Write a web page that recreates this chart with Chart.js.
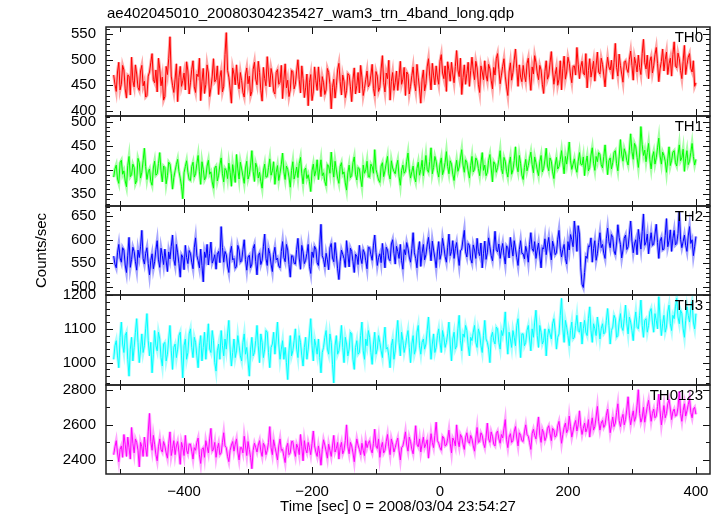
<!DOCTYPE html>
<html>
<head>
<meta charset="utf-8">
<script src="https://cdn.jsdelivr.net/npm/chart.js@4.4.1/dist/chart.umd.min.js"></script>
<style>
  html, body { margin: 0; padding: 0; background: #fff; }
  #wrap { position: relative; width: 723px; height: 516px; }
  #wrap canvas { position: absolute; left: 0; top: 0; }
</style>
</head>
<body>
<div id="wrap"></div>
<script>
const plotTitle = 'ae402045010_20080304235427_wam3_trn_4band_long.qdp';
const xTitle = 'Time [sec] 0 = 2008/03/04 23:54:27';
const yTitle = 'Counts/sec';
const bandNames = ['TH0', 'TH1', 'TH2', 'TH3', 'TH0123'];

// light curve bins: first bin time and bin width (sec)
const tStart = -510;
const binSize = 2;

const th0 = [
  470,452,438,476,495,441,452,489,480,443,425,470,468,431,505,459,447,490,472,446,
  440,478,489,449,458,427,430,468,476,494,512,461,455,480,437,503,482,449,466,421,
  428,487,471,502,545,468,450,436,462,492,418,465,487,448,459,474,441,496,478,433,
  455,481,498,447,436,472,467,503,420,458,483,434,452,490,474,428,445,468,502,457,
  461,488,432,466,479,437,448,510,553,479,466,443,415,484,472,451,490,457,443,475,
  459,436,427,470,484,453,468,429,438,481,495,462,451,497,475,440,419,485,463,449,
  506,472,447,483,470,438,433,475,481,452,456,489,424,461,492,445,460,428,441,479,
  477,443,452,478,500,461,435,488,463,426,445,472,410,456,471,420,437,486,459,440,
  486,455,428,467,455,432,441,483,475,452,404,446,462,425,449,480,493,457,431,470,
  458,426,440,473,470,447,418,461,484,433,450,475,435,489,466,430,444,462,478,447,
  452,470,491,444,429,477,468,438,446,482,508,455,437,474,463,499,421,458,475,440,
  455,478,440,465,497,452,462,485,430,476,471,433,448,469,486,454,439,491,466,443,
  415,462,480,439,453,486,502,468,441,493,470,451,488,466,452,497,510,474,463,488,
  438,496,479,458,495,472,455,487,518,480,467,503,432,465,490,452,473,495,448,479,
  505,478,461,497,484,452,436,488,476,461,498,470,458,491,482,460,443,485,470,502,
  512,481,453,470,487,502,468,447,430,476,494,460,475,499,521,483,448,490,466,457,
  489,470,457,492,503,466,440,486,472,508,495,474,461,489,480,452,434,477,498,462,
  470,494,516,478,452,471,485,450,462,498,441,483,507,462,476,505,493,470,455,487,
  488,470,524,491,463,486,497,474,470,512,445,479,502,466,481,497,458,488,515,476,
  472,503,491,470,447,482,505,486,480,499,462,494,532,485,468,511,489,472,456,495,
  498,482,475,501,517,489,460,505,493,476,509,485,471,512,540,494,482,509,463,497,
  506,474,488,510,524,493,457,482,497,521,478,500,515,471,492,503,468,510,535,488,
  484,513,502,479,463,497,528,471,490,505,512,483,476,498,448,455
];
const th1 = [
  385,402,410,381,372,415,420,391,398,377,365,409,428,386,390,412,405,371,378,424,
  415,383,395,419,445,407,380,396,402,376,368,404,418,389,392,413,436,398,375,408,
  405,371,388,416,412,392,360,384,398,411,422,397,383,366,340,394,407,419,395,380,
  378,407,416,385,392,413,430,396,370,417,401,379,385,408,420,391,396,375,362,404,
  408,377,389,410,425,392,375,403,399,382,414,395,366,411,393,374,432,402,381,416,
  402,387,372,404,418,381,390,410,440,397,376,414,405,383,395,376,362,398,412,385,
  386,405,423,389,398,417,370,395,409,378,393,412,435,396,380,408,401,385,364,399,
  417,381,392,406,384,413,426,392,371,399,404,382,390,376,355,398,412,387,398,421,
  380,402,421,388,394,376,367,411,408,393,437,405,385,418,400,383,372,407,415,391,
  396,373,358,394,410,384,388,415,427,391,379,405,402,381,365,410,393,400,418,386,
  385,412,407,393,442,401,390,379,374,408,415,386,398,414,428,392,381,419,404,397,
  392,408,420,387,368,399,410,393,397,418,435,402,383,396,408,385,375,403,416,389,
  401,420,388,407,430,401,395,417,446,392,405,428,418,398,385,412,425,390,400,416,
  438,407,392,419,412,391,378,402,420,397,406,425,442,410,395,421,415,398,383,409,
  428,396,401,425,419,403,388,414,436,399,410,388,395,420,432,404,375,417,412,395,
  405,421,440,403,392,426,418,397,385,412,427,391,400,419,448,408,396,430,413,389,
  380,405,422,398,409,424,437,411,394,427,415,400,388,417,430,396,403,421,445,408,
  398,425,418,396,382,410,426,402,407,421,440,415,392,428,412,433,458,419,401,412,
  423,404,395,418,436,412,410,427,388,415,429,398,405,431,446,414,399,428,417,436,
  432,411,404,428,452,420,390,419,425,402,415,436,440,413,398,427,463,431,418,444,
  435,419,410,441,475,438,422,455,448,426,405,433,490,452,430,441,417,436,455,421,
  402,427,438,412,425,446,466,429,412,437,430,418,395,423,448,409,420,437,440,415,
  408,431,452,419,425,443,397,424,440,411,418,436,455,428,410,422
];
const th2 = [
  565,548,540,572,590,561,552,583,578,546,530,567,605,541,558,584,575,553,535,578,
  562,585,620,560,548,571,583,549,525,556,570,538,553,579,598,557,541,582,566,547,
  580,555,532,574,559,586,610,558,545,590,572,549,520,568,563,536,588,562,549,577,
  571,552,538,583,604,566,555,540,580,545,510,574,562,590,546,571,595,550,557,568,
  537,569,575,551,628,583,552,575,568,544,530,571,586,557,560,539,543,588,578,552,
  555,579,600,558,535,563,567,540,548,581,590,553,525,566,572,547,556,585,612,560,
  545,582,570,548,532,569,584,557,561,544,540,575,596,562,553,590,578,547,520,566,
  565,550,548,579,603,561,537,588,574,549,556,571,590,543,528,574,562,586,580,551,
  545,589,633,566,558,542,571,557,536,583,592,561,553,594,567,538,515,553,578,569,
  560,541,598,571,542,582,575,553,530,569,565,547,588,561,549,579,572,555,538,584,
  583,568,556,587,610,573,545,562,570,551,592,566,540,584,578,559,555,591,600,571,
  548,586,575,560,590,555,537,579,568,594,582,563,552,581,615,572,560,540,577,596,
  543,571,590,557,568,589,605,579,555,597,578,561,540,574,596,558,570,603,585,564,
  552,584,612,566,575,598,560,581,594,567,545,576,580,601,620,574,563,592,588,559,
  550,589,578,560,603,575,566,593,540,571,597,558,572,604,585,566,555,582,618,579,
  574,591,560,578,592,566,548,587,583,561,605,584,565,598,580,562,545,579,598,571,
  570,559,586,573,552,590,615,581,575,596,560,578,593,565,540,583,580,602,568,589,
  605,576,557,597,585,568,572,601,620,582,563,579,590,560,548,596,578,611,600,585,
  640,612,575,630,612,540,505,498,530,565,560,587,585,604,552,581,598,556,570,594,
  615,583,590,571,560,602,625,596,583,611,605,576,568,593,632,605,590,561,578,603,
  610,579,585,612,640,597,572,591,600,568,622,601,580,617,655,588,595,612,570,596,
  615,588,590,612,633,594,560,597,605,578,580,609,645,585,598,621,575,603,620,589,
  592,613,660,601,583,596,610,588,575,608,628,592,600,566,585,607
];
const th3 = [
  1010,1050,1065,1020,985,1075,1120,1055,1030,1080,1090,1010,960,1040,1075,1005,1045,1090,1130,1060,
  1000,1040,1085,1030,1050,1100,1145,1065,1020,1060,970,1025,1095,1050,1035,1090,1070,1015,990,1055,
  1060,1005,1025,1070,1110,1035,980,1045,1055,1015,1040,1080,1090,1020,955,1050,1070,1010,1030,1085,
  1100,1045,1015,1075,1060,1020,985,1050,1080,1005,1045,1090,1010,1060,1115,1040,1030,1095,1065,1000,
  975,1035,1055,1010,1095,1050,1020,1070,1040,1085,1125,1040,990,1030,1070,1015,1035,1080,1050,1020,
  1005,1060,1085,1025,1045,1005,960,1040,1075,1020,1030,1065,1110,1050,1000,1085,1060,1015,1040,1095,
  1090,1030,985,1045,1055,1090,1025,1070,1120,1055,1010,1040,1065,1010,1045,1000,950,1035,1080,1020,
  1035,1065,1100,1040,1015,1080,1060,1020,990,1045,1075,1010,1040,1085,1130,1050,1005,1070,1050,1025,
  1070,1015,970,1030,1045,1075,1095,1040,1025,1085,1060,995,940,1050,1080,1025,1035,1065,1110,1045,
  1000,1075,1055,1020,1040,1090,1085,1010,980,1045,1065,1025,1030,1080,1120,1035,1010,1070,1050,1095,
  1075,1030,995,1055,1090,1025,1040,1080,1060,1035,1015,1070,1105,1040,1045,1020,985,1050,1070,1010,
  1035,1085,1125,1060,1020,1090,1065,1030,1050,1075,1095,1045,1000,1055,1080,1025,1040,1090,1110,1050,
  1025,1060,1070,1040,1055,1095,1135,1070,1010,1055,1085,1030,1045,1080,1100,1060,1030,1095,1075,1045,
  1060,1085,1120,1055,1005,1070,1090,1040,1050,1100,1140,1065,1035,1085,1075,1110,1095,1050,1020,1075,
  1065,1090,1110,1060,1045,1100,1085,1050,1030,1080,1125,1070,1060,1040,1000,1075,1090,1065,1055,1105,
  1100,1060,1040,1095,1080,1105,1150,1070,1025,1090,1070,1045,1095,1075,1050,1110,1130,1070,1015,1085,
  1085,1050,1060,1095,1110,1070,1035,1100,1075,1120,1155,1080,1045,1110,1090,1055,1065,1100,1020,1075,
  1100,1085,1070,1115,1130,1095,1040,1075,1085,1140,1190,1100,1060,1125,1105,1080,1050,1095,1120,1070,
  1075,1110,1140,1095,1090,1120,1055,1100,1125,1090,1080,1130,1165,1095,1060,1115,1100,1080,1135,1105,
  1070,1100,1115,1085,1090,1125,1160,1110,1055,1095,1105,1140,1130,1075,1080,1120,1145,1105,1095,1130,
  1170,1115,1085,1135,1120,1095,1065,1120,1150,1105,1100,1140,1185,1110,1075,1125,1130,1090,1110,1150,
  1160,1120,1090,1145,1125,1100,1195,1130,1080,1115,1140,1090,1105,1150,1170,1115,1095,1140,1130,1165,
  1190,1135,1115,1155,1145,1100,1075,1125,1165,1140,1120,1160,1180,1120,1100,1145
];
const th0123 = [
  2430,2475,2510,2440,2390,2460,2480,2415,2545,2490,2420,2530,2470,2405,2585,2495,2440,2520,2500,2455,
  2360,2500,2475,2420,2530,2470,2420,2560,2665,2505,2455,2540,2490,2430,2395,2475,2520,2460,2445,2505,
  2480,2440,2410,2495,2560,2425,2465,2510,2430,2480,2505,2445,2375,2500,2470,2425,2540,2455,2435,2490,
  2490,2450,2405,2470,2455,2500,2525,2430,2380,2460,2470,2415,2510,2475,2440,2520,2580,2450,2460,2500,
  2415,2465,2495,2430,2440,2500,2555,2480,2470,2420,2390,2455,2485,2505,2450,2490,2520,2445,2400,2470,
  2470,2440,2535,2480,2425,2505,2460,2415,2350,2455,2495,2470,2445,2485,2510,2450,2420,2495,2480,2430,
  2455,2500,2590,2470,2430,2515,2475,2440,2400,2480,2520,2455,2460,2420,2385,2470,2495,2430,2440,2505,
  2505,2455,2420,2490,2470,2430,2545,2475,2395,2510,2460,2440,2500,2470,2430,2495,2565,2480,2445,2420,
  2480,2435,2370,2460,2515,2485,2450,2410,2490,2455,2420,2480,2540,2445,2465,2500,2405,2470,2500,2435,
  2455,2510,2600,2475,2435,2500,2480,2440,2390,2465,2520,2485,2460,2430,2495,2455,2425,2510,2470,2495,
  2510,2460,2440,2495,2575,2480,2465,2520,2415,2470,2500,2440,2455,2505,2545,2475,2430,2520,2490,2445,
  2470,2500,2525,2455,2400,2470,2480,2515,2560,2485,2450,2530,2505,2460,2435,2510,2595,2490,2475,2520,
  2445,2490,2530,2470,2490,2515,2410,2480,2550,2500,2470,2540,2615,2510,2495,2470,2455,2535,2525,2480,
  2485,2520,2570,2495,2440,2525,2510,2480,2600,2510,2475,2545,2530,2490,2460,2530,2555,2505,2495,2540,
  2520,2480,2450,2525,2585,2500,2505,2555,2540,2495,2470,2530,2610,2520,2500,2560,2535,2490,2480,2550,
  2565,2520,2495,2545,2525,2580,2630,2515,2470,2530,2550,2500,2510,2560,2590,2525,2480,2555,2540,2510,
  2505,2560,2600,2545,2535,2500,2460,2550,2575,2540,2520,2585,2645,2540,2500,2575,2555,2510,2530,2580,
  2595,2550,2510,2580,2570,2530,2540,2595,2620,2560,2495,2545,2585,2610,2555,2575,2650,2590,2530,2565,
  2600,2625,2565,2600,2680,2590,2545,2580,2610,2560,2580,2630,2530,2595,2640,2570,2590,2645,2705,2620,
  2570,2610,2625,2585,2600,2655,2690,2620,2555,2600,2645,2590,2610,2670,2720,2625,2590,2635,2660,2600,
  2630,2690,2760,2655,2600,2645,2680,2620,2645,2710,2800,2665,2615,2640,2700,2615,2660,2705,2740,2680,
  2620,2665,2690,2640,2650,2705,2775,2680,2600,2655,2710,2640,2665,2720,2745,2690,2630,2675,2690,2650,
  2655,2700,2790,2665,2620,2680,2720,2650,2680,2715,2750,2670,2640,2690,2700,2660
];

const series = [th0, th1, th2, th3, th0123];
const colors = ['#ff0000', '#00ff00', '#0000ff', '#00ffff', '#ff00ff'];
const haloColors = ['rgba(255,0,0,0.35)', 'rgba(0,255,0,0.35)', 'rgba(0,0,255,0.35)', 'rgba(0,255,255,0.35)', 'rgba(255,0,255,0.35)'];
const yMin = [390, 325, 482, 934, 2320];
const yMax = [564, 512, 672, 1200, 2827];
const yStep = [10, 10, 10, 20, 100];
const yLabelStep = [50, 50, 50, 100, 200];
const xMin = -522, xMax = 422, xStep = 100, xLabelStep = 200;

const W = 723, H = 516;
const plotLeft = 106, plotRight = 710, plotTop = 27, plotBottom = 474;
const panelH = (plotBottom - plotTop) / series.length;

const FONT = "'Liberation Sans', Arial, Helvetica, sans-serif";
Chart.defaults.font.family = FONT;
Chart.defaults.font.size = 15;
Chart.defaults.color = '#000';

// every multiple of step inside [min, max]
function stepTicks(min, max, step) {
  const out = [];
  for (let v = Math.ceil(min / step) * step; v <= max; v += step) out.push({ value: v });
  return out;
}

// frame, inward ticks (both sides) and band name of one panel
const qdpFrame = {
  id: 'qdpFrame',
  afterDraw(chart, args, opts) {
    const ctx = chart.ctx;
    const a = chart.chartArea;
    const xs = chart.scales.x;
    const ys = chart.scales.y;
    const k = opts.k;
    ctx.save();
    ctx.strokeStyle = '#111';
    ctx.lineWidth = 1;
    ctx.beginPath();
    ys.ticks.forEach(t => {
      const py = Math.round(ys.getPixelForValue(t.value)) + 0.5;
      const len = t.value % yLabelStep[k] === 0 ? 7 : 4;
      ctx.moveTo(a.left, py); ctx.lineTo(a.left + len, py);
      ctx.moveTo(a.right, py); ctx.lineTo(a.right - len, py);
    });
    xs.ticks.forEach(t => {
      const px = Math.round(xs.getPixelForValue(t.value)) + 0.5;
      const len = t.value % xLabelStep === 0 ? 7 : 5;
      ctx.moveTo(px, a.top); ctx.lineTo(px, a.top + len);
      ctx.moveTo(px, a.bottom); ctx.lineTo(px, a.bottom - len);
    });
    ctx.stroke();
    ctx.lineWidth = 1.5;
    ctx.strokeStyle = '#222';
    ctx.strokeRect(a.left, a.top, a.right - a.left, a.bottom - a.top);

    ctx.fillStyle = '#000';
    ctx.font = '15px ' + FONT;
    ctx.textBaseline = 'middle';
    ctx.textAlign = 'right';
    ctx.fillText(bandNames[k], a.right - 7, a.top + 11);
    ctx.restore();
  }
};

// page texts: file name on top, axis titles
const qdpTexts = {
  id: 'qdpTexts',
  afterDraw(chart) {
    const ctx = chart.ctx;
    ctx.save();
    ctx.fillStyle = '#000';
    ctx.font = '15px ' + FONT;
    ctx.textBaseline = 'middle';
    ctx.textAlign = 'left';
    ctx.fillText(plotTitle, 107, 14);
    ctx.textAlign = 'center';
    ctx.fillText(xTitle, 398, 507);
    ctx.translate(42, (plotTop + plotBottom) / 2);
    ctx.rotate(-Math.PI / 2);
    ctx.fillText(yTitle, 0, 0);
    ctx.restore();
  }
};

const wrap = document.getElementById('wrap');
series.forEach((vals, k) => {
  const canvas = document.createElement('canvas');
  canvas.width = W;
  canvas.height = H;
  wrap.appendChild(canvas);
  const top = Math.round(plotTop + k * panelH);
  const bottom = Math.round(plotTop + (k + 1) * panelH);
  const isLast = k === series.length - 1;
  const points = vals.map((v, i) => ({ x: tStart + i * binSize, y: v }));

  new Chart(canvas, {
    type: 'line',
    data: {
      datasets: [{
        label: bandNames[k],
        data: points,
        borderColor: colors[k],
        borderWidth: 1,
        pointRadius: 0,
        tension: 0,
        fill: false,
        order: 0
      }, {
        // soft halo under the curve, standing in for the qdp error bars
        label: bandNames[k] + ' halo',
        data: points,
        borderColor: haloColors[k],
        borderWidth: 3,
        pointRadius: 0,
        tension: 0,
        fill: false,
        order: 1
      }]
    },
    options: {
      responsive: false,
      animation: false,
      devicePixelRatio: 1,
      layout: { padding: { left: 0, top: top, right: W - plotRight, bottom: 0 } },
      plugins: {
        legend: { display: false },
        tooltip: { enabled: false },
        qdpFrame: { k: k }
      },
      scales: {
        x: {
          type: 'linear',
          min: xMin,
          max: xMax,
          grid: { display: false, drawTicks: false },
          border: { display: false },
          afterBuildTicks: s => { s.ticks = stepTicks(xMin, xMax, xStep); },
          ticks: {
            display: isLast,
            autoSkip: false,
            maxRotation: 0,
            padding: 9,
            callback: v => (v % xLabelStep === 0 ? String(v).replace('-', '\u2212') : '')
          },
          afterFit: s => { s.height = H - bottom; }
        },
        y: {
          type: 'linear',
          min: yMin[k],
          max: yMax[k],
          grid: { display: false, drawTicks: false },
          border: { display: false },
          afterBuildTicks: s => { s.ticks = stepTicks(yMin[k], yMax[k], yStep[k]); },
          ticks: {
            autoSkip: false,
            padding: 10,
            callback: v => (v % yLabelStep[k] === 0 ? String(v) : '')
          },
          afterFit: s => { s.width = plotLeft; }
        }
      }
    },
    plugins: isLast ? [qdpFrame, qdpTexts] : [qdpFrame]
  });
});
</script>
</body>
</html>
